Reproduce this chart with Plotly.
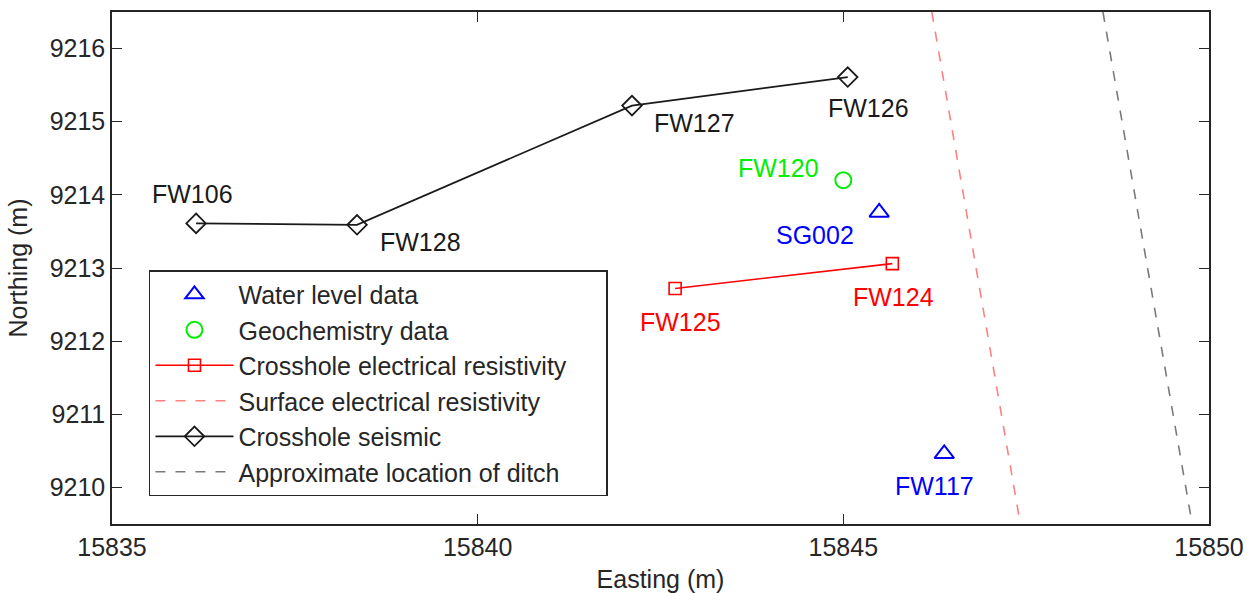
import plotly.graph_objects as go

# ---- data ----
seismic_x = [15836.15, 15838.35, 15842.11, 15845.06]
seismic_y = [9213.61, 9213.59, 9215.22, 9215.61]
seismic_labels = ["FW106", "FW128", "FW127", "FW126"]

resist_x = [15842.70, 15845.67]
resist_y = [9212.72, 9213.06]
resist_labels = ["FW125", "FW124"]

water_x = [15845.49, 15846.38]
water_y = [9213.76, 9210.46]
water_labels = ["SG002", "FW117"]

geochem_x = [15845.00]
geochem_y = [9214.20]
geochem_labels = ["FW120"]

surface_x = [15846.21, 15847.42]
surface_y = [9216.5, 9209.5]

ditch_x = [15848.55, 15849.77]
ditch_y = [9216.5, 9209.5]

x_ticks = [15835, 15840, 15845, 15850]
y_ticks = [9210, 9211, 9212, 9213, 9214, 9215, 9216]

# ---- styles ----
FONT = "Liberation Sans, Arial, Helvetica, sans-serif"
FS = 25
AX = "#262626"
BLUE = "#0000ff"
GREEN = "#00ee00"
RED = "#ff0000"
LRED = "#ff8080"
BLACK = "#1a1a1a"
GREY = "#7a7a7a"
PAD = "\u00a0" * 5

fig = go.Figure()

fig.add_trace(go.Scatter(
    x=water_x, y=water_y, mode="markers", name="Water level data",
    legendgroup="a",
    marker=dict(symbol="triangle-up-open", size=17, color=BLUE, line=dict(width=2, color=BLUE))))
fig.add_trace(go.Scatter(
    x=geochem_x, y=geochem_y, mode="markers", name="Geochemistry data",
    legendgroup="b",
    marker=dict(symbol="circle-open", size=16, color=GREEN, line=dict(width=2, color=GREEN))))
fig.add_trace(go.Scatter(
    x=resist_x, y=resist_y, mode="lines+markers", name="Crosshole electrical resistivity" + PAD,
    legendgroup="c",
    line=dict(color=RED, width=1.6),
    marker=dict(symbol="square-open", size=12, color=RED, line=dict(width=1.6, color=RED))))
fig.add_trace(go.Scatter(
    x=surface_x, y=surface_y, mode="lines", name="Surface electrical resistivity",
    legendgroup="d",
    line=dict(color=LRED, width=1.6, dash="10px,10px")))
fig.add_trace(go.Scatter(
    x=seismic_x, y=seismic_y, mode="lines+markers", name="Crosshole seismic",
    legendgroup="e",
    line=dict(color=BLACK, width=1.8),
    marker=dict(symbol="diamond-open", size=15, color=BLACK, line=dict(width=1.8, color=BLACK))))
fig.add_trace(go.Scatter(
    x=ditch_x, y=ditch_y, mode="lines", name="Approximate location of ditch",
    legendgroup="f",
    line=dict(color=GREY, width=1.6, dash="10px,10px")))

# ---- point labels ----
label_sets = [
    (seismic_x, seismic_y, seismic_labels, "#1a1a1a", [(-4, 29), (63, -17), (63, -17), (21, -31)]),
    (resist_x, resist_y, resist_labels, RED, [(5, -34), (1, -33)]),
    (water_x, water_y, water_labels, BLUE, [(-64, -23), (-10, -32)]),
    (geochem_x, geochem_y, geochem_labels, GREEN, [(-65, 12)]),
]
for xs, ys, labs, col, offs in label_sets:
    for xv, yv, lab, (dx, dy) in zip(xs, ys, labs, offs):
        fig.add_annotation(x=xv, y=yv, text=lab, showarrow=False,
                           xshift=dx, yshift=dy,
                           font=dict(family=FONT, size=FS, color=col))

axis_common = dict(
    showline=True, linecolor=AX, linewidth=1.5, mirror="ticks",
    ticks="inside", ticklen=10, tickwidth=1, tickcolor=AX,
    showgrid=False, zeroline=False, automargin=False,
    tickfont=dict(family=FONT, size=FS, color=AX),
)

fig.update_xaxes(range=[15835, 15850], tickvals=x_ticks,
                 ticktext=[str(v) for v in x_ticks],
                 title=dict(text="Easting (m)", font=dict(family=FONT, size=FS, color=AX)),
                 **axis_common)
fig.update_yaxes(range=[9209.5, 9216.5], tickvals=y_ticks,
                 ticktext=[str(v) for v in y_ticks],
                 title=dict(text="Northing (m)", font=dict(family=FONT, size=FS, color=AX)),
                 **axis_common)

fig.update_layout(
    width=1257, height=593,
    margin=dict(l=112, r=48, t=12, b=69),
    plot_bgcolor="white", paper_bgcolor="white",
    font=dict(family=FONT, size=FS, color=AX),
    legend=dict(
        x=0.0337, y=0.496, xanchor="left", yanchor="top",
        bgcolor="white", bordercolor=AX, borderwidth=1.5,
        font=dict(family=FONT, size=FS, color=AX),
        itemwidth=78, tracegroupgap=0,
        traceorder="normal",
    ),
    showlegend=True,
)

fig.write_html("out.html")
